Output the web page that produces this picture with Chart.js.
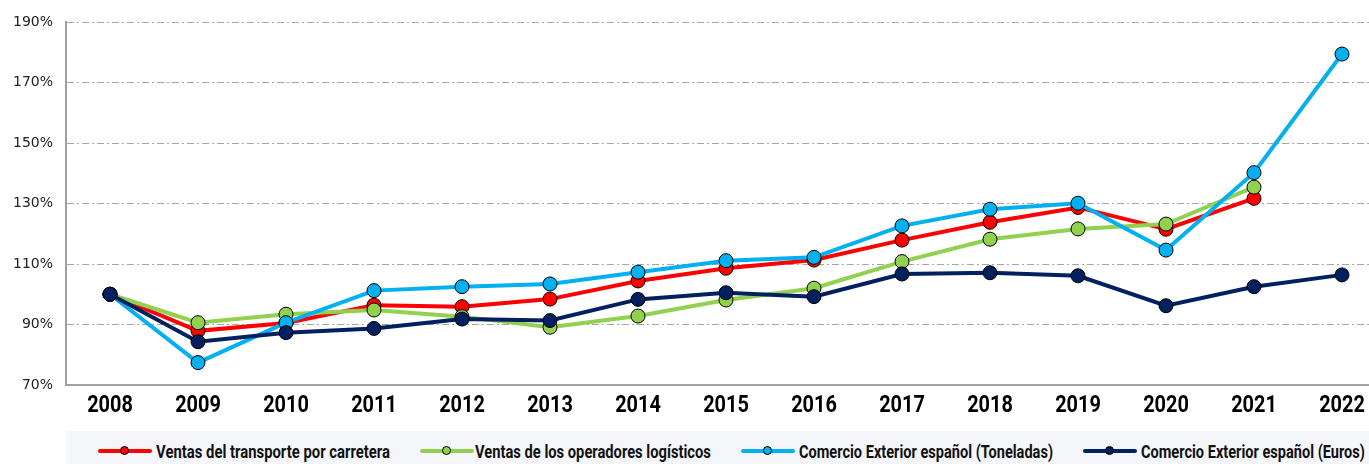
<!DOCTYPE html>
<html>
<head>
<meta charset="utf-8">
<script src="https://cdn.jsdelivr.net/npm/chart.js@4/dist/chart.umd.min.js"></script>
<style>
  html, body { margin: 0; padding: 0; background: #fff; }
  #wrap { position: relative; width: 1369px; height: 464px; overflow: hidden; }
  #c { position: absolute; left: 0; top: 0; }
  #legend { position: absolute; left: 66px; top: 431px; width: 1303px; height: 33px; background: #f4f6fa; }
  .sym { position: absolute; top: 15px; width: 54px; height: 9px; }
  .sym .ln { position: absolute; left: 0; right: 0; top: 3px; height: 4px; border-radius: 2px; }
  .sym .dot { position: absolute; left: 22px; top: 0px; width: 7px; height: 7px; border-radius: 50%; border: 1px solid #000; }
  .txt { position: absolute; top: 0; height: 33px; line-height: 42px; transform-origin: 0 50%;
         font-family: Roboto, "Open Sans", sans-serif; font-weight: bold; font-size: 18px; color: #111; white-space: nowrap; }
</style>
</head>
<body>
<div id="wrap">
  <canvas id="c" width="1400" height="430"></canvas>
  <div id="legend"></div>
</div>
<script>
const categories = ["2008","2009","2010","2011","2012","2013","2014","2015","2016","2017","2018","2019","2020","2021","2022"];
const seriesNames = [
  "Ventas del transporte por carretera",
  "Ventas de los operadores logísticos",
  "Comercio Exterior español (Toneladas)",
  "Comercio Exterior español (Euros)"
];
const transporte = [100, 87.9, 90.5, 96.4, 95.9, 98.4, 104.4, 108.6, 111.3, 117.9, 123.8, 128.7, 121.5, 131.7, null];
const operadores = [100, 90.6, 93.4, 94.8, 92.6, 89.1, 92.8, 98.1, 102.0, 110.8, 118.2, 121.6, 123.2, 135.4, null];
const toneladas  = [100, 77.4, 90.6, 101.2, 102.5, 103.4, 107.3, 111.1, 112.2, 122.6, 128.1, 130.1, 114.6, 140.2, 179.4];
const euros      = [100, 84.3, 87.3, 88.7, 91.8, 91.3, 98.3, 100.5, 99.2, 106.7, 107.1, 106.1, 96.2, 102.5, 106.4];
const yTicks = [70, 90, 110, 130, 150, 170, 190];

const colors = ["#ff0000", "#92d050", "#00b0f0", "#002060"];
const values = [transporte, operadores, toneladas, euros];

const datasets = values.map((v, i) => ({
  label: seriesNames[i],
  data: v,
  borderColor: colors[i],
  backgroundColor: colors[i],
  borderWidth: 4,
  pointRadius: 7,
  pointHoverRadius: 7,
  pointBackgroundColor: colors[i],
  pointBorderColor: "#000",
  pointBorderWidth: 1,
  tension: 0,
  spanGaps: false,
  order: 4 - i
}));

const xLabelPlugin = {
  id: "xLabels",
  afterDraw(chart) {
    const ctx = chart.ctx;
    const xs = chart.scales.x;
    ctx.save();
    ctx.font = "bold 24px Roboto, sans-serif";
    ctx.fillStyle = "#000";
    ctx.textAlign = "center";
    ctx.textBaseline = "middle";
    categories.forEach((lab, i) => {
      const x = xs.getPixelForValue(i);
      ctx.save();
      ctx.translate(x, 406);
      ctx.scale(0.83, 1);
      ctx.fillText(lab, 0, 0);
      ctx.restore();
    });
    ctx.restore();
  }
};

new Chart(document.getElementById("c"), {
  type: "line",
  data: { labels: categories, datasets },
  options: {
    responsive: false,
    animation: false,
    devicePixelRatio: 1,
    layout: { padding: { top: 22, right: 14, left: 0, bottom: 0 } },
    plugins: { legend: { display: false }, tooltip: { enabled: false } },
    scales: {
      x: {
        offset: true,
        grid: { display: false, drawTicks: false },
        border: { display: true, color: "#a0a0a0", width: 2 },
        ticks: { display: false },
        afterFit: s => { s.height = 45; }
      },
      y: {
        min: 70, max: 190,
        afterBuildTicks: s => { s.ticks = yTicks.map(v => ({ value: v })); },
        grid: { drawTicks: false, color: "#a6a6a6", lineWidth: 1 },
        border: { display: true, color: "#a0a0a0", width: 2, dash: [7, 3, 2, 3] },
        ticks: {
          padding: 13,
          color: "#222",
          font: { family: "'DejaVu Sans', sans-serif", size: 14 },
          callback: v => v + "%"
        },
        afterFit: s => { s.width = 66; }
      }
    }
  },
  plugins: [xLabelPlugin]
});

// HTML legend (positions relative to legend box)
const symX = [32, 354, 675, 1017];
const txtX = [90, 409, 733, 1075];
const txtW = [234, 236, 254, 224];
const legend = document.getElementById("legend");
seriesNames.forEach((name, i) => {
  const sym = document.createElement("div");
  sym.className = "sym";
  sym.style.left = symX[i] + "px";
  sym.innerHTML = '<div class="ln" style="background:' + colors[i] + '"></div><div class="dot" style="background:' + colors[i] + '"></div>';
  legend.appendChild(sym);
  const t = document.createElement("div");
  t.className = "txt";
  t.style.left = txtX[i] + "px";
  t.textContent = name;
  legend.appendChild(t);
  const w = t.getBoundingClientRect().width;
  t.style.transform = "scaleX(" + (txtW[i] / w).toFixed(3) + ")";
});
</script>
</body>
</html>
